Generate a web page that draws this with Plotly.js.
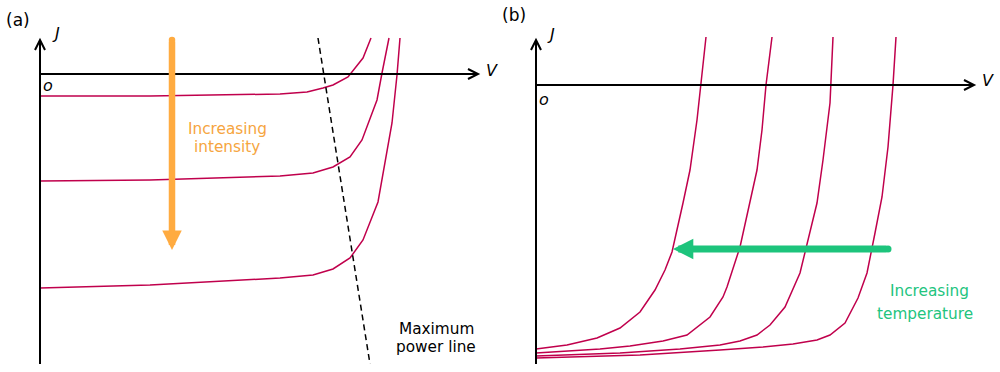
<!DOCTYPE html>
<html>
<head>
<meta charset="utf-8">
<script src="https://cdn.plot.ly/plotly-3.0.1.min.js"></script>
<style>
  html, body { margin: 0; padding: 0; background: #ffffff; }
  #chart { width: 1000px; height: 372px; }
</style>
</head>
<body>
<div id="chart"></div>
<script>
// ---- Panel (a): J-V curves for three light intensities (arbitrary units) ----
const vA_low  = [0, 110, 240, 267, 283, 293, 308, 323, 331];
const jA_low  = [-22, -22, -20, -18, -14, -11, -3, 16, 36];
const vA_mid  = [0, 110, 240, 273, 293, 310, 322, 337, 342, 349];
const jA_mid  = [-107, -106, -102, -99, -93, -83, -66, -26, 1, 36];
const vA_high = [0, 110, 240, 273, 293, 310, 323, 338, 352, 357, 360];
const jA_high = [-214, -211, -204, -201, -195, -184, -166, -128, -49, -1, 36];
const vMaxPower = [278, 330];
const jMaxPower = [36, -290];

// ---- Panel (b): J-V curves for four temperatures (highest T leftmost) ----
const vB_T4 = [0, 31, 61, 84, 104, 119, 129, 136, 147, 154, 161, 165, 170];
const jB_T4 = [-264, -260, -253, -243, -227, -205, -185, -167, -118, -85, -35, 0, 48];
const vB_T3 = [0, 64, 94, 127, 151, 174, 187, 191, 204, 221, 226, 230, 236];
const jB_T3 = [-268, -264, -261, -256, -250, -232, -212, -202, -162, -85, -45, 0, 48];
const vB_T2 = [0, 84, 144, 184, 204, 221, 234, 249, 264, 272, 281, 287, 294, 297];
const jB_T2 = [-271, -268, -264, -260, -256, -250, -240, -222, -188, -155, -118, -75, -18, 48];
const vB_T1 = [0, 104, 184, 227, 257, 281, 294, 309, 322, 331, 339, 346, 352, 357, 360];
const jB_T1 = [-273, -270, -265, -262, -259, -255, -250, -238, -213, -188, -148, -112, -62, 0, 48];

// axis extents (data units) for the drawn arrow axes
const axisA_V = [0, 438];
const axisA_J = [-290, 34];
const axisB_V = [0, 438];
const axisB_J = [-279, 45];

// indicator arrows (tail, head)
const intensityArrowV = [132, 132];
const intensityArrowJ = [34, -176];
const tempArrowV = [352, 137];
const tempArrowJ = [-164, -164];

const curveColor = '#c0004c';
const orange = '#ffab40';
const green = '#1dc47c';
const FONT = 'DejaVu Sans, Verdana, sans-serif';

function curve(x, y, xa, ya) {
  return { x: x, y: y, xaxis: xa, yaxis: ya, type: 'scatter', mode: 'lines',
           line: { color: curveColor, width: 1.5 }, hoverinfo: 'skip', showlegend: false };
}
function tailCap(x, y, xa, ya, color, size) {
  return { x: [x], y: [y], xaxis: xa, yaxis: ya, type: 'scatter', mode: 'markers',
           marker: { color: color, size: size, line: { width: 0 } }, hoverinfo: 'skip', showlegend: false };
}

const traces = [
  curve(vA_low, jA_low, 'x', 'y'),
  curve(vA_mid, jA_mid, 'x', 'y'),
  curve(vA_high, jA_high, 'x', 'y'),
  { x: vMaxPower, y: jMaxPower, xaxis: 'x', yaxis: 'y', type: 'scatter', mode: 'lines',
    line: { color: '#000000', width: 1.5, dash: '6px,4px' }, hoverinfo: 'skip', showlegend: false },
  curve(vB_T4, jB_T4, 'x2', 'y2'),
  curve(vB_T3, jB_T3, 'x2', 'y2'),
  curve(vB_T2, jB_T2, 'x2', 'y2'),
  curve(vB_T1, jB_T1, 'x2', 'y2'),
  tailCap(intensityArrowV[0], intensityArrowJ[0], 'x', 'y', orange, 6.5),
  tailCap(tempArrowV[0], tempArrowJ[0], 'x2', 'y2', green, 7)
];

function axisShapes(xr, yr, vRange, jRange) {
  const s = [];
  const ln = { color: '#000000', width: 2 };
  s.push({ type: 'line', xref: xr, yref: yr, x0: 0, x1: 0, y0: jRange[0], y1: jRange[1], line: ln });
  s.push({ type: 'line', xref: xr, yref: yr, x0: vRange[0], x1: vRange[1], y0: 0, y1: 0, line: ln });
  const tJ = jRange[1], tV = vRange[1];
  s.push({ type: 'path', xref: xr, yref: yr, line: ln,
           path: `M -5 ${tJ - 10} L 0 ${tJ} L 5 ${tJ - 10}` });
  s.push({ type: 'path', xref: xr, yref: yr, line: ln,
           path: `M ${tV - 10} 5 L ${tV} 0 L ${tV - 10} -5` });
  return s;
}

function label(xr, yr, x, y, text, size, color) {
  return { xref: xr, yref: yr, x: x, y: y, text: text, showarrow: false,
           xanchor: 'center', yanchor: 'middle',
           font: { family: FONT, size: size, color: color || '#000000' } };
}

const annotations = [
  label('x', 'y', -22, 54, '(a)', 17),
  label('x', 'y', 16, 41, '<i>J</i>', 16),
  label('x', 'y', 452, 4, '<i>V</i>', 16),
  label('x', 'y', 8, -11, '<i>o</i>', 16),
  label('x', 'y', 187, -55, 'Increasing', 15.3, '#f6a540'),
  label('x', 'y', 187, -73, 'intensity', 15.3, '#f6a540'),
  label('x', 'y', 396, -255, 'Maximum', 15.3),
  label('x', 'y', 396, -273, 'power line', 15.3),
  label('x2', 'y2', -22, 70, '(b)', 17),
  label('x2', 'y2', 15, 51, '<i>J</i>', 16),
  label('x2', 'y2', 452, 5, '<i>V</i>', 16),
  label('x2', 'y2', 8, -14, '<i>o</i>', 16),
  label('x2', 'y2', 393, -206, 'Increasing', 15.3, '#22c47e'),
  label('x2', 'y2', 389, -229, 'temperature', 15.3, '#22c47e'),
  { xref: 'x', yref: 'y', axref: 'x', ayref: 'y',
    x: intensityArrowV[1], y: intensityArrowJ[1], ax: intensityArrowV[0], ay: intensityArrowJ[0],
    text: '', showarrow: true, arrowhead: 2, arrowwidth: 6.5, arrowsize: 0.6, arrowcolor: orange },
  { xref: 'x2', yref: 'y2', axref: 'x2', ayref: 'y2',
    x: tempArrowV[1], y: tempArrowJ[1], ax: tempArrowV[0], ay: tempArrowJ[0],
    text: '', showarrow: true, arrowhead: 2, arrowwidth: 7, arrowsize: 0.58, arrowcolor: green }
];

const hidden = { visible: false, fixedrange: true };
const layout = {
  width: 1000, height: 372, autosize: false,
  margin: { l: 0, r: 0, t: 0, b: 0, pad: 0 },
  paper_bgcolor: '#ffffff', plot_bgcolor: 'rgba(0,0,0,0)',
  showlegend: false,
  xaxis:  Object.assign({ domain: [0, 0.5], range: [-40, 460] }, hidden),
  yaxis:  Object.assign({ domain: [0, 1], range: [-298, 74] }, hidden),
  xaxis2: Object.assign({ domain: [0.5, 1], range: [-36, 464], anchor: 'y2' }, hidden),
  yaxis2: Object.assign({ domain: [0, 1], range: [-287, 85], anchor: 'x2' }, hidden),
  shapes: axisShapes('x', 'y', axisA_V, axisA_J).concat(axisShapes('x2', 'y2', axisB_V, axisB_J)),
  annotations: annotations
};

Plotly.newPlot('chart', traces, layout, { staticPlot: true, displayModeBar: false });
</script>
</body>
</html>
